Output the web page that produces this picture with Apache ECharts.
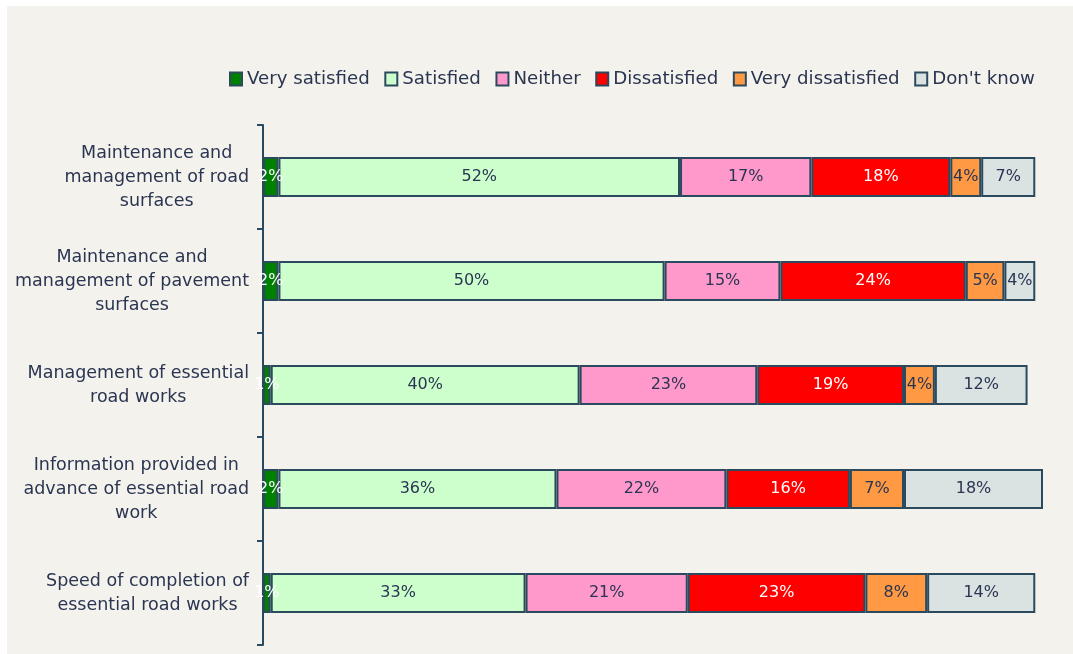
<!DOCTYPE html>
<html>
<head>
<meta charset="utf-8">
<script src="https://cdn.jsdelivr.net/npm/echarts@6/dist/echarts.min.js"></script>
<style>
  html, body { margin: 0; padding: 0; background: #ffffff; }
  #chart { width: 1073px; height: 654px; }
</style>
</head>
<body>
<div id="chart"></div>
<script>
// categories (top to bottom)
const categories = [
  'Maintenance and\nmanagement of road\nsurfaces',
  'Maintenance and\nmanagement of pavement\nsurfaces',
  'Management of essential\nroad works',
  'Information provided in\nadvance of essential road\nwork',
  'Speed of completion of\nessential road works'
]

// percentages per answer
const verySatisfied = [2, 2, 1, 2, 1]
const satisfied = [52, 50, 40, 36, 33]
const neither = [17, 15, 23, 22, 21]
const dissatisfied = [18, 24, 19, 16, 23]
const veryDissatisfied = [4, 5, 4, 7, 8]
const dontKnow = [7, 4, 12, 18, 14]

const textColor = '#2a3552'
const edgeColor = '#2b4a5e'
const fontFamily = '"DejaVu Sans", Verdana, sans-serif'

const seriesDefs = [
  { name: 'Very satisfied', data: verySatisfied, color: '#008000', label: '#ffffff' },
  { name: 'Satisfied', data: satisfied, color: '#ccffcc', label: textColor },
  { name: 'Neither', data: neither, color: '#ff99cc', label: textColor },
  { name: 'Dissatisfied', data: dissatisfied, color: '#ff0000', label: '#ffffff' },
  { name: 'Very dissatisfied', data: veryDissatisfied, color: '#ff9944', label: textColor },
  { name: "Don't know", data: dontKnow, color: '#dae2e2', label: textColor }
]

const chart = echarts.init(document.getElementById('chart'))

const option = {
  animation: false,
  backgroundColor: 'transparent',
  graphic: [{
    type: 'rect',
    z: -10,
    shape: { x: 7, y: 6, width: 1066, height: 648 },
    style: { fill: '#f4f2ec' }
  }],
  legend: {
    left: 224,
    top: 65,
    itemWidth: 12,
    itemHeight: 13,
    itemGap: 14.6,
    icon: 'rect',
    textStyle: { color: textColor, fontSize: 18.2, fontFamily: fontFamily },
    data: seriesDefs.map((s) => s.name)
  },
  grid: {
    left: 263,
    right: 30,
    top: 125,
    bottom: 9
  },
  xAxis: {
    type: 'value',
    min: 0,
    max: 101,
    show: false
  },
  yAxis: {
    type: 'category',
    inverse: true,
    data: categories,
    axisLine: { lineStyle: { color: edgeColor, width: 2 } },
    axisTick: { show: true, alignWithLabel: false, length: 6, lineStyle: { color: edgeColor, width: 2 } },
    axisLabel: {
      margin: 14,
      color: textColor,
      fontFamily: fontFamily,
      fontSize: 17.5,
      lineHeight: 24,
      formatter: (v) => v.split('\n').map((line) => '{c|' + line + '}').join('\n'),
      rich: {
        c: { align: 'center', color: textColor, fontFamily: fontFamily, fontSize: 17.5, lineHeight: 24 }
      }
    }
  },
  series: seriesDefs.map((s) => ({
    name: s.name,
    type: 'bar',
    stack: 'total',
    barWidth: 40,
    data: s.data,
    itemStyle: { color: s.color, borderColor: edgeColor, borderWidth: 2 },
    label: {
      show: true,
      position: 'inside',
      color: s.label,
      fontFamily: fontFamily,
      fontSize: 16,
      formatter: (p) => p.value + '%'
    }
  }))
}

chart.setOption(option)
</script>
</body>
</html>
